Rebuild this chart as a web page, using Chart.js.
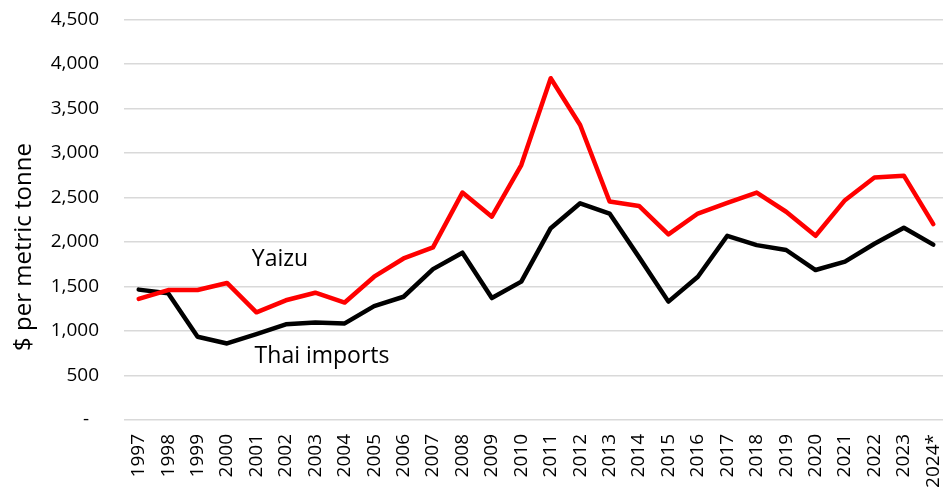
<!DOCTYPE html>
<html>
<head>
<meta charset="utf-8">
<script src="https://cdn.jsdelivr.net/npm/chart.js@4/dist/chart.umd.min.js"></script>
<style>
  html, body { margin: 0; padding: 0; background: #fff; overflow: hidden; }
  #wrap { width: 943px; height: 490px; overflow: hidden; }
</style>
</head>
<body>
<div id="wrap"><canvas id="priceChart" width="948" height="490"></canvas></div>
<script>
const years = ["1997", "1998", "1999", "2000", "2001", "2002", "2003", "2004", "2005", "2006",
  "2007", "2008", "2009", "2010", "2011", "2012", "2013", "2014", "2015", "2016",
  "2017", "2018", "2019", "2020", "2021", "2022", "2023", "2024*"];
const yaizu = [1360, 1460, 1460, 1540, 1210, 1345, 1430, 1320, 1610, 1815,
  1940, 2555, 2285, 2865, 3840, 3315, 2455, 2405, 2085, 2320,
  2440, 2555, 2340, 2070, 2470, 2725, 2745, 2200];
const thaiImports = [1465, 1425, 935, 860, 965, 1075, 1095, 1085, 1280, 1385,
  1695, 1880, 1370, 1555, 2155, 2435, 2320, 1830, 1330, 1610,
  2070, 1965, 1910, 1685, 1780, 1980, 2160, 1970];
const yTicks = [0, 500, 1000, 1500, 2000, 2500, 3000, 3500, 4000, 4500];
const yTitle = "$ per metric tonne";

Chart.defaults.font.family = "'Open Sans', sans-serif";
Chart.defaults.color = "#000";

// series names written next to the lines, plus the rotated axis title
const textLabels = {
  id: "textLabels",
  afterDatasetsDraw(chart) {
    const { ctx, scales } = chart;
    ctx.save();
    ctx.fillStyle = "#000";
    ctx.font = "23px 'Open Sans'";
    ctx.textAlign = "center";
    ctx.textBaseline = "alphabetic";
    ctx.fillText("Yaizu", scales.x.getPixelForValue(4.8), scales.y.getPixelForValue(1730));
    ctx.fillText("Thai imports", scales.x.getPixelForValue(6.23), scales.y.getPixelForValue(640));

    ctx.translate(24, 247);
    ctx.rotate(-Math.PI / 2);
    ctx.textBaseline = "middle";
    ctx.font = "24px 'Open Sans'";
    ctx.fillText(yTitle, 0, 0);
    ctx.restore();
  }
};

new Chart("priceChart", {
  type: "line",
  data: {
    labels: years,
    datasets: [
      {
        label: "Yaizu",
        data: yaizu,
        borderColor: "#ff0000",
        borderWidth: 4.5,
        pointRadius: 0,
        tension: 0,
        borderJoinStyle: "round",
        borderCapStyle: "round"
      },
      {
        label: "Thai imports",
        data: thaiImports,
        borderColor: "#000000",
        borderWidth: 4.5,
        pointRadius: 0,
        tension: 0,
        borderJoinStyle: "round",
        borderCapStyle: "round"
      }
    ]
  },
  options: {
    responsive: false,
    animation: false,
    layout: { padding: { top: 19.5, right: 0, bottom: 0, left: 0 } },
    plugins: {
      legend: { display: false },
      tooltip: { enabled: false }
    },
    scales: {
      x: {
        offset: true,
        grid: { display: false, drawTicks: false },
        border: { display: false },
        ticks: {
          autoSkip: false,
          minRotation: 90,
          maxRotation: 90,
          padding: 14,
          font: { size: 19 }
        },
        afterFit(scale) {
          scale.height = 70;
          scale.paddingLeft = 0;
          scale.paddingRight = 0;
        }
      },
      y: {
        min: 0,
        max: 4500,
        afterBuildTicks(scale) { scale.ticks = yTicks.map(v => ({ value: v })); },
        grid: { color: "#d9d9d9", lineWidth: 1.6, drawTicks: false },
        border: { display: false },
        ticks: {
          padding: 25,
          font: { size: 19 },
          callback: v => (v === 0 ? "-  " : v.toLocaleString("en-US"))
        },
        afterFit(scale) {
          scale.width = 124;
          scale.paddingTop = 0;
          scale.paddingBottom = 0;
        }
      }
    }
  },
  plugins: [textLabels]
});
</script>
</body>
</html>
